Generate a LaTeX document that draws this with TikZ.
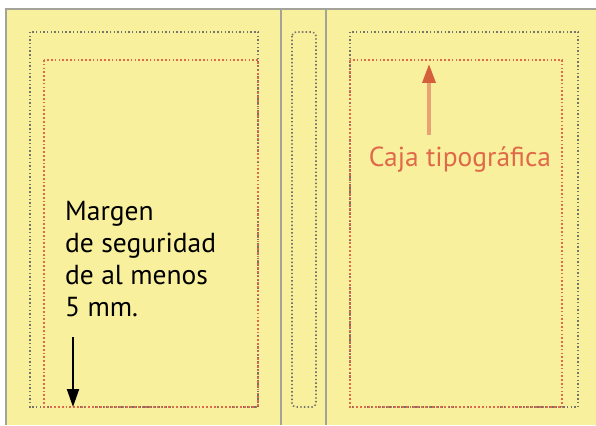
\documentclass[tikz,border=0pt]{standalone}
\usepackage{fontspec}
\setsansfont{PT Sans}
\usetikzlibrary{arrows.meta,positioning}
\definecolor{paper}{HTML}{F9F09D}
\definecolor{edgegrey}{HTML}{A4A39A}
\definecolor{dotgrey}{HTML}{74736C}
\definecolor{cajared}{HTML}{E0694A}
\definecolor{cajashaft}{HTML}{E9A274}
\definecolor{cajahead}{HTML}{D65F3B}
\tikzset{
  pageedge/.style ={draw=edgegrey, line width=1.6pt},
  safebox/.style  ={draw=dotgrey, line width=1.6pt, dash pattern=on 1.4pt off 2.3pt},
  typebox/.style  ={draw=cajared, line width=1.3pt, dash pattern=on 1.7pt off 2.1pt},
  note/.style     ={font=\sffamily\fontsize{27.5}{32}\selectfont, align=left, inner sep=0pt},
  cajanote/.style ={font=\sffamily\fontsize{27.5}{32}\selectfont, text=cajared, inner sep=0pt}
}
\begin{document}
\begin{tikzpicture}[x=1pt, y=-1pt]
\useasboundingbox (0,0) rectangle (596,425);
% paper and folds
\fill[paper] (6,9) rectangle (596,425);
\draw[pageedge] (6,425) -- (6,9) -- (596,9);
\draw[pageedge, line width=1.2pt] (281,9) -- (281,425);
\draw[pageedge, line width=1.2pt] (326,9) -- (326,425);
% safety margins
\draw[safebox] (30,32) rectangle (258,407);
\draw[safebox, rounded corners=4pt] (292,32) rectangle (316,407);
\draw[safebox] (350,32) rectangle (578,407);
% type areas
\draw[typebox] (44,60) rectangle (258,407);
\draw[typebox] (350,60) rectangle (562,407);
% labels
\node[note, anchor=north west] (margen) at (65,200.7)
  {Margen\\de seguridad\\de al menos\\5 mm.};
\node[cajanote, anchor=base] (caja) at (460,166) {Caja tipográfica};
% arrows
\coordinate (margenstart) at (73,337);
\coordinate (margentip) at (73,407);
\draw[line width=2pt, -{Triangle[length=18pt, width=12pt]}] (margenstart) -- (margentip);
\coordinate (cajastart) at (429,135);
\coordinate (cajatip) at (429,64);
\draw[cajashaft, line width=3.5pt, -{Triangle[length=19pt, width=13pt, color=cajahead]}] (cajastart) -- (cajatip);
\end{tikzpicture}
\end{document}
